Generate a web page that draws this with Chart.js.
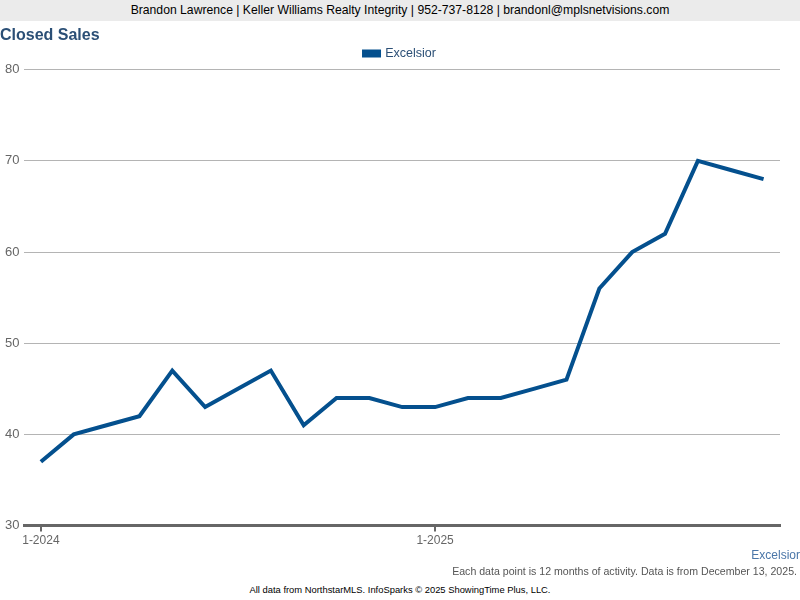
<!DOCTYPE html>
<html>
<head>
<meta charset="utf-8">
<script src="https://cdn.jsdelivr.net/npm/chart.js@4"></script>
<style>
  body { margin: 0; width: 800px; height: 600px; background: #fff; font-family: Arial, "Liberation Sans", sans-serif; position: relative; overflow: hidden; }
  #header { position: absolute; left: 0; top: 0; width: 800px; height: 21px; background: #ebebeb; text-align: center; font-size: 12.2px; line-height: 21px; color: #000; }
  #wrap { position: absolute; left: 0; top: 21px; width: 800px; height: 529px; }
  #place { position: absolute; right: 0; top: 548px; font-size: 12px; color: #4a76a8; }
  #note { position: absolute; right: 3px; top: 565px; font-size: 10.6px; color: #555; }
  #source { position: absolute; left: 0; width: 800px; top: 584px; text-align: center; font-size: 9.4px; color: #000; }
</style>
</head>
<body>
<div id="header">Brandon Lawrence | Keller Williams Realty Integrity | 952-737-8128 | brandonl@mplsnetvisions.com</div>
<div id="wrap"><canvas id="myChart" width="800" height="529"></canvas></div>
<div id="place">Excelsior</div>
<div id="note">Each data point is 12 months of activity. Data is from December 13, 2025.</div>
<div id="source">All data from NorthstarMLS. InfoSparks © 2025 ShowingTime Plus, LLC.</div>
<script>
let months = ['1-2024', '2-2024', '3-2024', '4-2024', '5-2024', '6-2024', '7-2024', '8-2024', '9-2024', '10-2024', '11-2024', '12-2024',
    '1-2025', '2-2025', '3-2025', '4-2025', '5-2025', '6-2025', '7-2025', '8-2025', '9-2025', '10-2025', '11-2025'];
let excelsior = [37, 40, 41, 42, 47, 43, 45, 47, 41, 44, 44, 43, 43, 44, 44, 45, 46, 56, 60, 62, 70, 69, 68];
let shownLabels = ['1-2024', '1-2025'];

var ctx = document.getElementById('myChart').getContext('2d');
var myChart = new Chart(ctx, {
    type: 'line',
    data: {
        labels: months,
        datasets: [
            {
                label: 'Excelsior',
                data: excelsior,
                borderColor: '#04508e',
                backgroundColor: '#04508e',
                borderWidth: 4,
                pointRadius: 0,
                tension: 0
            }
        ]
    },
    options: {
        responsive: false,
        animation: false,
        layout: { padding: 0 },
        plugins: {
            title: {
                display: true,
                text: 'Closed Sales',
                align: 'start',
                color: '#2b4f76',
                font: { family: 'Arial', size: 16, weight: 'bold' },
                padding: { top: 5, bottom: 2 }
            },
            legend: {
                labels: {
                    boxWidth: 15,
                    boxHeight: 4,
                    color: '#2b4f76',
                    font: { family: 'Arial', size: 12.5 },
                    padding: 0
                }
            },
            tooltip: { enabled: false }
        },
        scales: {
            x: {
                offset: true,
                grid: {
                    offset: false,
                    drawOnChartArea: false,
                    tickLength: 6,
                    lineWidth: 2,
                    color: function (c) {
                        return shownLabels.includes(months[c.index]) ? '#666' : 'rgba(0,0,0,0)';
                    }
                },
                border: { color: '#666', width: 3 },
                ticks: {
                    autoSkip: false,
                    maxRotation: 0,
                    color: '#666',
                    font: { family: 'Arial', size: 12 },
                    padding: 2,
                    callback: function (v, i) {
                        return shownLabels.includes(months[i]) ? months[i] : '';
                    }
                }
            },
            y: {
                min: 30,
                max: 80,
                grid: { color: '#b4b4b4', lineWidth: 1, drawTicks: false },
                border: { display: false },
                ticks: {
                    stepSize: 10,
                    color: '#666',
                    font: { family: 'Arial', size: 13 },
                    padding: 5
                }
            },
            y2: {
                position: 'right',
                min: 30,
                max: 80,
                grid: { display: false },
                border: { display: false },
                ticks: { display: false },
                afterFit: function (s) { s.width = 20; }
            }
        }
    }
});
</script>
</body>
</html>
